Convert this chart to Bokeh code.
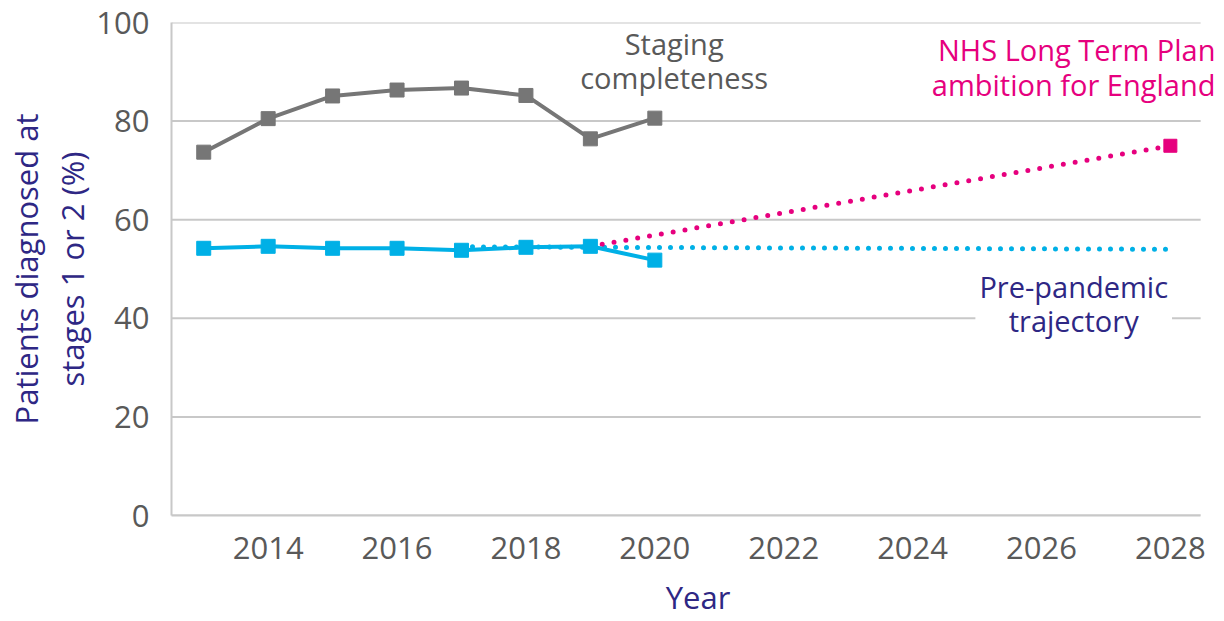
from bokeh.plotting import figure
from bokeh.models import Label, Range1d, FixedTicker
from bokeh.embed import file_html
from bokeh.resources import INLINE

years = [2013, 2014, 2015, 2016, 2017, 2018, 2019, 2020]
staging_completeness = [73.7, 80.5, 85.1, 86.3, 86.7, 85.2, 76.4, 80.6]
early_stage = [54.2, 54.6, 54.2, 54.2, 53.8, 54.4, 54.6, 51.8]
prepandemic_years = [2017, 2028]
prepandemic_values = [54.5, 54.0]
ambition_years = [2019, 2028]
ambition_values = [54.6, 75.0]
x_ticks = [2014, 2016, 2018, 2020, 2022, 2024, 2026, 2028]
y_ticks = [0, 20, 40, 60, 80, 100]

X_START, X_END = 2012.5, 2028.47

GREY = "#767676"
CYAN = "#00b0e6"
PINK = "#e6007e"
NAVY = "#2e2784"
TICK = "#595959"
GRID = "#c8c8c8"
FONT = "Open Sans"

p = figure(width=1224, height=621, output_backend="svg", toolbar_location=None,
           x_range=Range1d(X_START, 2028.84), y_range=Range1d(0, 100),
           min_border_left=171, min_border_right=0, min_border_top=22, min_border_bottom=106)
p.outline_line_color = None
p.background_fill_color = "white"
p.border_fill_color = "white"

p.xgrid.grid_line_color = None
p.ygrid.grid_line_color = None

p.xaxis.ticker = FixedTicker(ticks=x_ticks)
p.yaxis.ticker = FixedTicker(ticks=y_ticks)
for ax in (p.xaxis[0], p.yaxis[0]):
    ax.axis_line_color = GRID
    ax.axis_line_width = 2
    ax.major_tick_line_color = None
    ax.minor_tick_line_color = None
    ax.major_label_text_color = TICK
    ax.major_label_text_font = FONT
    ax.major_label_text_font_size = "31px"
    ax.axis_label_text_color = NAVY
    ax.axis_label_text_font = FONT
    ax.axis_label_text_font_style = "normal"
    ax.axis_label_text_font_size = "31px"
    ax.axis_label_text_line_height = 1.1
p.xaxis.bounds = (X_START, X_END)
p.yaxis.major_label_standoff = 16
p.xaxis.major_label_standoff = 15
p.xaxis.axis_label = "Year"
p.xaxis.axis_label_standoff = 14
p.yaxis.axis_label = "Patients diagnosed at\nstages 1 or 2 (%)"
p.yaxis.axis_label_standoff = 0

# horizontal grid lines limited to the axis extent
p.segment(x0=[X_START] * len(y_ticks), x1=[X_END] * len(y_ticks), y0=y_ticks, y1=y_ticks,
          line_color=GRID, line_width=2)

# dotted projections
p.line(prepandemic_years, prepandemic_values, line_color=CYAN, line_width=5,
       line_dash="0 11", line_cap="round")
p.line(ambition_years, ambition_values, line_color=PINK, line_width=5,
       line_dash="0 12", line_cap="round")
p.scatter([ambition_years[-1]], [ambition_values[-1]], marker="square", size=13,
          fill_color=PINK, line_color=PINK)

# observed series
p.line(years, staging_completeness, line_color=GREY, line_width=4)
p.scatter(years, staging_completeness, marker="square", size=14, fill_color=GREY, line_color=GREY)
p.line(years, early_stage, line_color=CYAN, line_width=4)
p.scatter(years, early_stage, marker="square", size=14, fill_color=CYAN, line_color=CYAN)

# annotations
p.add_layout(Label(x=2020.3, y=92.3, text="Staging\ncompleteness", text_align="center",
                   text_baseline="middle", text_color="#595959", text_font=FONT,
                   text_font_size="29px", text_line_height=0.87))
p.add_layout(Label(x=2028.70, y=91.0, text="NHS Long Term Plan\nambition for England",
                   text_align="right", text_baseline="middle", text_color=PINK,
                   text_font=FONT, text_font_size="29px", text_line_height=0.9))
p.add_layout(Label(x=2026.5, y=43.0, text="Pre-pandemic\ntrajectory", text_align="center",
                   text_baseline="middle", text_color=NAVY, text_font=FONT,
                   text_font_size="29px", text_line_height=0.88,
                   background_fill_color="white", padding=4))

open("out.html", "w").write(file_html(p, INLINE))
